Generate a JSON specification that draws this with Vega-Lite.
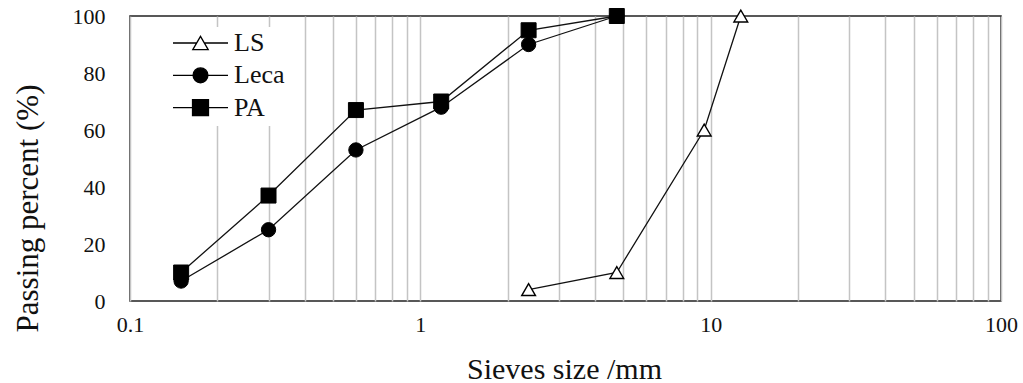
{
  "$schema": "https://vega.github.io/schema/vega-lite/v6.json",
  "width": 871,
  "height": 285,
  "autosize": {"type": "none"},
  "padding": {"left": 130, "top": 16, "right": 22, "bottom": 82},
  "background": "white",
  "config": {
    "font": "Liberation Serif",
    "view": {"stroke": "#222222", "strokeWidth": 1.5},
    "axis": {"labelFont": "Liberation Serif", "titleFont": "Liberation Serif", "labelColor": "#111111", "titleColor": "#111111", "titleFontWeight": "normal", "domain": false, "ticks": false}
  },
  "data": {
    "values": [
      {"series": "LS", "size": 2.36, "passing": 4},
      {"series": "LS", "size": 4.75, "passing": 10},
      {"series": "LS", "size": 9.5, "passing": 60},
      {"series": "LS", "size": 12.7, "passing": 100},
      {"series": "Leca", "size": 0.15, "passing": 7},
      {"series": "Leca", "size": 0.3, "passing": 25},
      {"series": "Leca", "size": 0.6, "passing": 53},
      {"series": "Leca", "size": 1.18, "passing": 68},
      {"series": "Leca", "size": 2.36, "passing": 90},
      {"series": "Leca", "size": 4.75, "passing": 100},
      {"series": "PA", "size": 0.15, "passing": 10},
      {"series": "PA", "size": 0.3, "passing": 37},
      {"series": "PA", "size": 0.6, "passing": 67},
      {"series": "PA", "size": 1.18, "passing": 70},
      {"series": "PA", "size": 2.36, "passing": 95},
      {"series": "PA", "size": 4.75, "passing": 100}
    ]
  },
  "encoding": {
    "x": {
      "field": "size", "type": "quantitative",
      "scale": {"type": "log", "domain": [0.1, 100], "nice": false},
      "axis": {
        "title": "Sieves size /mm",
        "values": [0.1, 0.2, 0.3, 0.4, 0.5, 0.6, 0.7, 0.8, 0.9, 1, 2, 3, 4, 5, 6, 7, 8, 9, 10, 20, 30, 40, 50, 60, 70, 80, 90, 100],
        "format": "~g",
        "labelExpr": "(datum.value == 0.1 || datum.value == 1 || datum.value == 10 || datum.value == 100) ? datum.label : ''",
        "labelOverlap": false,
        "labelFlush": false,
        "labelFontSize": 22,
        "labelPadding": 13,
        "grid": true,
        "gridColor": "#c4c4c4",
        "gridWidth": 1.5,
        "titleFontSize": 30,
        "titleX": 434,
        "titleY": 77,
        "titleBaseline": "alphabetic"
      }
    },
    "y": {
      "field": "passing", "type": "quantitative",
      "scale": {"domain": [0, 100], "nice": false},
      "axis": {
        "title": "Passing percent (%)",
        "values": [0, 20, 40, 60, 80, 100],
        "grid": false,
        "labelFontSize": 22,
        "labelPadding": 25,
        "titleFontSize": 31,
        "titleX": -93,
        "titleY": 192,
        "titleAngle": -90,
        "titleAlign": "center",
        "titleBaseline": "alphabetic"
      }
    }
  },
  "layer": [
    {
      "mark": {"type": "line", "color": "#111111", "strokeWidth": 1.3},
      "encoding": {"detail": {"field": "series"}}
    },
    {
      "transform": [{"filter": "datum.series === 'LS'"}],
      "mark": {"type": "point", "shape": "triangle-up", "size": 190, "filled": true, "fill": "white", "stroke": "#000000", "strokeWidth": 1.4, "opacity": 1}
    },
    {
      "transform": [{"filter": "datum.series === 'Leca'"}],
      "mark": {"type": "point", "shape": "circle", "size": 205, "filled": true, "fill": "black", "stroke": "#000000", "strokeWidth": 1, "opacity": 1}
    },
    {
      "transform": [{"filter": "datum.series === 'PA'"}],
      "mark": {"type": "point", "shape": "square", "size": 225, "filled": true, "fill": "black", "stroke": "#000000", "strokeWidth": 1, "opacity": 1}
    },
    {
      "mark": {"type": "point", "filled": true, "opacity": 0},
      "encoding": {
        "shape": {
          "field": "series", "type": "nominal",
          "scale": {"domain": ["LS", "Leca", "PA"], "range": [
            "M-1,0H-0.14M0.14,0H1M0,-0.24L0.28,0.24L-0.28,0.24Z",
            "M-1,0H1M0.27,0A0.27,0.27,0,1,1,-0.27,0A0.27,0.27,0,1,1,0.27,0Z",
            "M-1,0H1M-0.29,-0.29H0.29V0.29H-0.29Z"
          ]},
          "legend": {
            "title": null,
            "orient": "none",
            "legendX": 37,
            "legendY": 11,
            "padding": 5,
            "fillColor": "white",
            "symbolSize": 3025,
            "symbolOpacity": 1,
            "clipHeight": 22,
            "rowPadding": 6.3,
            "labelOffset": 5,
            "labelFont": "Liberation Serif",
            "labelFontSize": 26,
            "labelColor": "#111111",
            "labelLimit": 200,
            "encode": {"symbols": {"update": {"stroke": {"value": "black"}, "strokeWidth": {"value": 1.3}, "opacity": {"value": 1}}}}
          }
        },
        "fill": {
          "field": "series", "type": "nominal",
          "scale": {"domain": ["LS", "Leca", "PA"], "range": ["white", "black", "black"]},
          "legend": {
            "title": null,
            "orient": "none",
            "legendX": 37,
            "legendY": 11,
            "padding": 5,
            "fillColor": "white",
            "symbolSize": 3025,
            "symbolOpacity": 1,
            "clipHeight": 22,
            "rowPadding": 6.3,
            "labelOffset": 5,
            "labelFont": "Liberation Serif",
            "labelFontSize": 26,
            "labelColor": "#111111",
            "labelLimit": 200,
            "encode": {"symbols": {"update": {"stroke": {"value": "black"}, "strokeWidth": {"value": 1.3}, "opacity": {"value": 1}}}}
          }
        }
      }
    }
  ]
}
